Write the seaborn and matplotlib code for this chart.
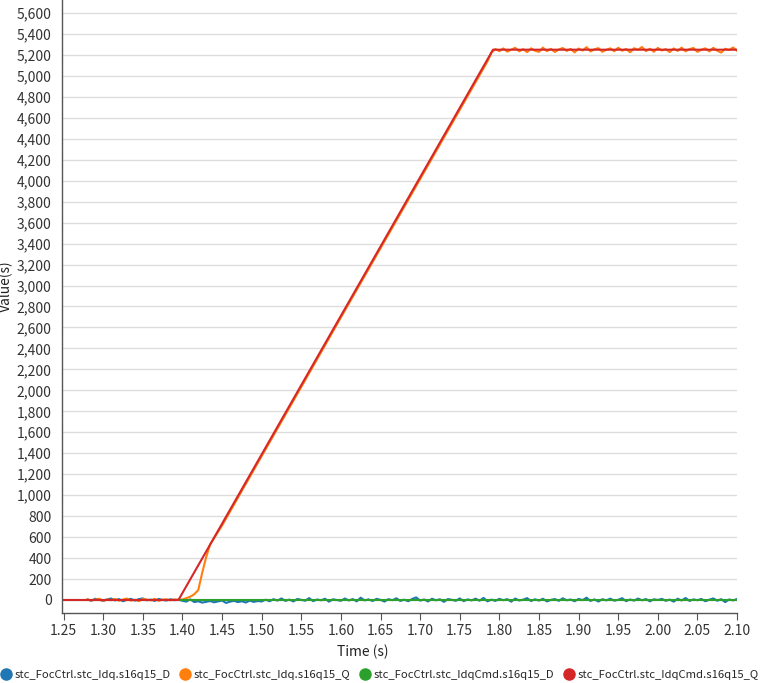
import numpy as np
import pandas as pd
import matplotlib
matplotlib.use("Agg")
import matplotlib.pyplot as plt
from matplotlib.lines import Line2D
from matplotlib.ticker import StrMethodFormatter, MultipleLocator
import seaborn as sns

# series names
names = ["stc_FocCtrl.stc_Idq.s16q15_D", "stc_FocCtrl.stc_Idq.s16q15_Q",
         "stc_FocCtrl.stc_IdqCmd.s16q15_D", "stc_FocCtrl.stc_IdqCmd.s16q15_Q"]
colors = ["#1f77b4", "#ff7f0e", "#2ca02c", "#d62728"]

# Idq D (measured), sampled every 5 ms from 1.28 s to 2.10 s
idq_d = [5, -8, 12, 3, -10, 6, 14, -4, 9, -12, 2, 11, -6, 8, 15, -3, 4, -9, 10, 1, -5, 7, -2, 3,
         -8, -15, 6, -20, -12, -25, -18, -10, -22, -14, -5, -28, -16, -8, -20, -12, -24, -6, -18, -10, -14,
         3, -12, 8, -6, 15, -9, 4, -14, 10, 2, -7, 18, -11, 5, -3, 12, -16, 7, 0, -8,
         14, -5, 9, -13, 22, -4, 6, -10, 11, 1, -15, 8, -2, 16, -9, 3, -12, 10, 25, -6,
         5, -14, 12, -3, 7, -18, 9, 2, -8, 15, -11, 6, -4, 13, -7, 20, -13, 4, -9, 11,
         -2, 8, -16, 14, -5, 3, 18, -10, 7, -6, 12, -14, 1, 9, -8, 16, -3, 5, -12, 10,
         -1, 22, -9, 6, -15, 8, -4, 13, -7, 2, 17, -11, 5, -6, 14, -3, 9, -13, 7, 0,
         11, -8, 4, -16, 12, -5, 19, -9, 6, -2, 10, -12, 3, 15, -7, 8, -20, 5, -4, 9]
t_d = np.round(np.linspace(1.28, 2.10, len(idq_d)), 3)

# Idq Q (measured)
t_q_pre = np.round(np.linspace(1.28, 1.395, 24), 3)
idq_q_pre = [8, -5, 3, 12, -9, 6, -2, 10, -7, 4, 14, -6, 2, -11, 9, 5, -4, 11, -8, 3, 7, -3, 6, 0]
t_q_rise = [1.40, 1.405, 1.41, 1.415, 1.42, 1.425, 1.43, 1.435]
idq_q_rise = [5, 18, 32, 55, 95, 260, 410, 530]
t_q_ramp = [1.45, 1.50, 1.55, 1.60, 1.65, 1.70, 1.75, 1.785]
idq_q_ramp = [710, 1372, 2032, 2695, 3355, 4015, 4676, 5138]
idq_q_flat = [5222, 5256, 5236, 5262, 5231, 5250, 5268, 5234, 5255, 5226,
              5263, 5240, 5229, 5270, 5236, 5258, 5228, 5251, 5266, 5238,
              5257, 5224, 5261, 5242, 5274, 5233, 5254, 5265, 5230, 5249,
              5263, 5235, 5269, 5240, 5257, 5225, 5264, 5250, 5276, 5236,
              5259, 5230, 5267, 5242, 5255, 5227, 5262, 5238, 5270, 5234,
              5256, 5266, 5229, 5250, 5263, 5233, 5268, 5240, 5222, 5259,
              5247, 5271, 5238]
t_q_flat = np.round(np.linspace(1.79, 2.10, len(idq_q_flat)), 3)

# commands
t_cmd_d = [1.25, 2.10]
cmd_d = [0, 0]
t_cmd_q = [1.25, 1.395, 1.792, 2.10]
cmd_q = [0, 0, 5250, 5250]

t_q = np.concatenate([t_q_pre, t_q_rise, t_q_ramp, t_q_flat])
idq_q = idq_q_pre + idq_q_rise + idq_q_ramp + idq_q_flat

df = pd.concat([
    pd.DataFrame({"t": t_d, "v": idq_d, "s": names[0]}),
    pd.DataFrame({"t": t_q, "v": idq_q, "s": names[1]}),
    pd.DataFrame({"t": t_cmd_d, "v": cmd_d, "s": names[2]}),
    pd.DataFrame({"t": t_cmd_q, "v": cmd_q, "s": names[3]}),
], ignore_index=True)

sns.set_style("white")
plt.rcParams["font.family"] = ["Noto Sans CJK SC", "DejaVu Sans"]

fig = plt.figure(figsize=(7.65, 6.83), dpi=100)
ax = fig.add_axes([0.081, 0.1025, 0.8825, 0.8975])

sns.lineplot(data=df, x="t", y="v", hue="s", hue_order=names, palette=colors,
             estimator=None, sort=False, linewidth=1.5, legend=False, ax=ax)

ax.set_xlim(1.248, 2.10)
ax.set_ylim(-124, 5724)
ax.xaxis.set_major_locator(MultipleLocator(0.05))
ax.xaxis.set_major_formatter(StrMethodFormatter("{x:.2f}"))
ax.yaxis.set_major_locator(MultipleLocator(200))
ax.yaxis.set_major_formatter(StrMethodFormatter("{x:,.0f}"))
ax.grid(axis="y", color="#dddddd", linewidth=1)
ax.set_axisbelow(True)
sns.despine(ax=ax)
for sp in ("left", "bottom"):
    ax.spines[sp].set_color("#555555")
    ax.spines[sp].set_linewidth(1)
ax.tick_params(axis="x", bottom=True, length=5, color="#555555", labelsize=10, labelcolor="#333333", pad=3)
ax.tick_params(axis="y", left=False, labelsize=10, labelcolor="#333333", pad=4)
ax.set_xlabel("Time (s)", fontsize=10, color="#222222")
ax.set_ylabel("Value(s)", fontsize=10, color="#222222")
ax.xaxis.set_label_coords(0.446, -0.052)
ax.yaxis.set_label_coords(-0.072, 0.533)

handles = [Line2D([], [], marker="o", linestyle="", markersize=8, color=c) for c in colors]
fig.legend(handles, names, loc="lower left", bbox_to_anchor=(-0.014, -0.011), ncol=4, frameon=False,
           fontsize=8.1, handletextpad=0.15, columnspacing=0.7, handlelength=1.2)

fig.savefig("out.png", dpi=100)
